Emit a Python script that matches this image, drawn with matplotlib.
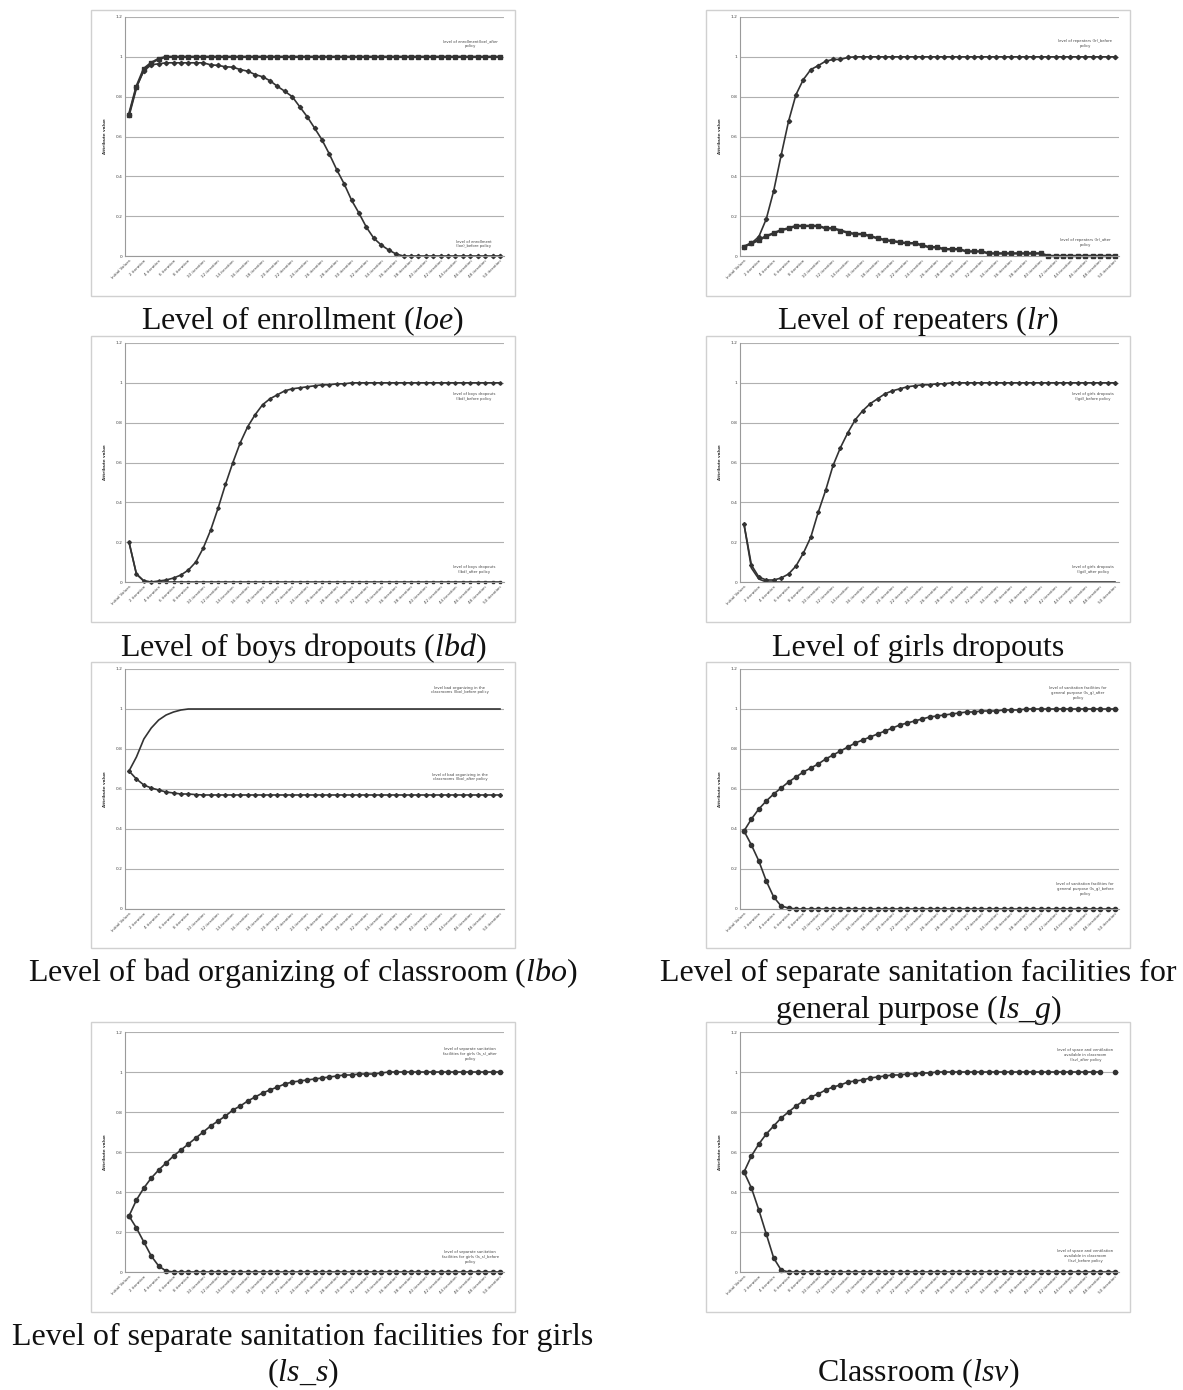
import matplotlib
matplotlib.use("Agg")
import matplotlib.pyplot as plt
from matplotlib.patches import Rectangle
import numpy as np

W, H = 1183, 1390
plt.rcParams['font.family'] = ['DejaVu Sans']
plt.rcParams['mathtext.fontset'] = 'custom'
plt.rcParams['mathtext.rm'] = 'Liberation Serif'
plt.rcParams['mathtext.it'] = 'Liberation Serif:italic'

# ---------------- data ----------------
categories = ["Initial Values"] + [f"{i} iteration" for i in range(1, 51)]
y_ticks = [0, 0.2, 0.4, 0.6, 0.8, 1, 1.2]
y_tick_labels = ["0", "0.2", "0.4", "0.6", "0.8", "1", "1.2"]

loe_after = [0.71, 0.85, 0.94, 0.97, 0.99, 1, 1, 1, 1, 1,
             1, 1, 1, 1, 1, 1, 1, 1, 1, 1,
             1, 1, 1, 1, 1, 1, 1, 1, 1, 1,
             1, 1, 1, 1, 1, 1, 1, 1, 1, 1,
             1, 1, 1, 1, 1, 1, 1, 1, 1, 1, 1]
loe_before = [0.71, 0.85, 0.93, 0.96, 0.965, 0.97, 0.97, 0.97, 0.97, 0.97,
              0.97, 0.96, 0.957, 0.95, 0.948, 0.936, 0.928, 0.911, 0.90, 0.88,
              0.852, 0.827, 0.80, 0.75, 0.70, 0.643, 0.584, 0.512, 0.433, 0.362,
              0.28, 0.215, 0.144, 0.089, 0.055, 0.03, 0.01, 0, 0, 0,
              0, 0, 0, 0, 0, 0, 0, 0, 0, 0, 0]

lr_before = [0.047, 0.064, 0.097, 0.186, 0.327, 0.505, 0.676, 0.81, 0.886, 0.936,
             0.956, 0.978, 0.987, 0.987, 0.997, 1, 1, 1, 1, 1,
             1, 1, 1, 1, 1, 1, 1, 1, 1, 1,
             1, 1, 1, 1, 1, 1, 1, 1, 1, 1,
             1, 1, 1, 1, 1, 1, 1, 1, 1, 1, 1]
lr_after = [0.047, 0.064, 0.08, 0.10, 0.114, 0.13, 0.139, 0.151, 0.151, 0.151,
            0.151, 0.139, 0.139, 0.128, 0.117, 0.11, 0.11, 0.10, 0.089, 0.08,
            0.075, 0.069, 0.064, 0.064, 0.054, 0.044, 0.044, 0.034, 0.034, 0.034,
            0.023, 0.023, 0.023, 0.013, 0.013, 0.013, 0.013, 0.013, 0.013, 0.013,
            0.013, 0, 0, 0, 0, 0, 0, 0, 0, 0, 0]

lbd_before = [0.2, 0.04, 0.005, 0.0, 0.005, 0.01, 0.02, 0.035, 0.06, 0.1,
              0.17, 0.26, 0.37, 0.49, 0.6, 0.7, 0.78, 0.84, 0.89, 0.92,
              0.94, 0.96, 0.97, 0.975, 0.98, 0.985, 0.99, 0.99, 0.995, 0.995,
              1, 1, 1, 1, 1, 1, 1, 1, 1, 1,
              1, 1, 1, 1, 1, 1, 1, 1, 1, 1, 1]
lbd_after = [0.2, 0.04, 0.005, 0, 0, 0, 0, 0, 0, 0,
             0, 0, 0, 0, 0, 0, 0, 0, 0, 0,
             0, 0, 0, 0, 0, 0, 0, 0, 0, 0,
             0, 0, 0, 0, 0, 0, 0, 0, 0, 0,
             0, 0, 0, 0, 0, 0, 0, 0, 0, 0, 0]

lgd_before = [0.29, 0.085, 0.025, 0.01, 0.01, 0.02, 0.04, 0.08, 0.145, 0.225,
              0.35, 0.46, 0.585, 0.675, 0.75, 0.815, 0.86, 0.895, 0.92, 0.945,
              0.96, 0.97, 0.98, 0.985, 0.99, 0.99, 0.995, 0.995, 1, 1,
              1, 1, 1, 1, 1, 1, 1, 1, 1, 1,
              1, 1, 1, 1, 1, 1, 1, 1, 1, 1, 1]
lgd_after = [0.29, 0.07, 0.015, 0, 0, 0, 0, 0, 0, 0,
             0, 0, 0, 0, 0, 0, 0, 0, 0, 0,
             0, 0, 0, 0, 0, 0, 0, 0, 0, 0,
             0, 0, 0, 0, 0, 0, 0, 0, 0, 0,
             0, 0, 0, 0, 0, 0, 0, 0, 0, 0, 0]

lbo_before = [0.69, 0.76, 0.85, 0.905, 0.945, 0.97, 0.985, 0.995, 1, 1,
              1, 1, 1, 1, 1, 1, 1, 1, 1, 1,
              1, 1, 1, 1, 1, 1, 1, 1, 1, 1,
              1, 1, 1, 1, 1, 1, 1, 1, 1, 1,
              1, 1, 1, 1, 1, 1, 1, 1, 1, 1, 1]
lbo_after = [0.69, 0.65, 0.62, 0.605, 0.595, 0.585, 0.58, 0.575, 0.575, 0.572,
             0.57, 0.57, 0.57, 0.57, 0.57, 0.57, 0.57, 0.57, 0.57, 0.57,
             0.57, 0.57, 0.57, 0.57, 0.57, 0.57, 0.57, 0.57, 0.57, 0.57,
             0.57, 0.57, 0.57, 0.57, 0.57, 0.57, 0.57, 0.57, 0.57, 0.57,
             0.57, 0.57, 0.57, 0.57, 0.57, 0.57, 0.57, 0.57, 0.57, 0.57, 0.57]

lsg_after = [0.39, 0.45, 0.50, 0.54, 0.575, 0.605, 0.635, 0.66, 0.685, 0.705,
             0.725, 0.75, 0.77, 0.79, 0.81, 0.83, 0.845, 0.86, 0.875, 0.89,
             0.905, 0.92, 0.93, 0.94, 0.95, 0.96, 0.965, 0.97, 0.975, 0.98,
             0.985, 0.985, 0.99, 0.99, 0.99, 0.995, 0.995, 0.995, 1, 1,
             1, 1, 1, 1, 1, 1, 1, 1, 1, 1, 1]
lsg_before = [0.39, 0.32, 0.24, 0.14, 0.06, 0.015, 0.005, 0, 0, 0,
              0, 0, 0, 0, 0, 0, 0, 0, 0, 0,
              0, 0, 0, 0, 0, 0, 0, 0, 0, 0,
              0, 0, 0, 0, 0, 0, 0, 0, 0, 0,
              0, 0, 0, 0, 0, 0, 0, 0, 0, 0, 0]

lss_after = [0.28, 0.36, 0.42, 0.47, 0.51, 0.545, 0.58, 0.61, 0.64, 0.67,
             0.70, 0.73, 0.755, 0.78, 0.81, 0.83, 0.855, 0.875, 0.895, 0.91,
             0.925, 0.94, 0.95, 0.955, 0.96, 0.965, 0.97, 0.975, 0.98, 0.985,
             0.985, 0.99, 0.99, 0.99, 0.995, 1, 1, 1, 1, 1,
             1, 1, 1, 1, 1, 1, 1, 1, 1, 1, 1]
lss_before = [0.28, 0.22, 0.15, 0.08, 0.03, 0.005, 0, 0, 0, 0,
              0, 0, 0, 0, 0, 0, 0, 0, 0, 0,
              0, 0, 0, 0, 0, 0, 0, 0, 0, 0,
              0, 0, 0, 0, 0, 0, 0, 0, 0, 0,
              0, 0, 0, 0, 0, 0, 0, 0, 0, 0, 0]

lsv_after = [0.5, 0.58, 0.64, 0.69, 0.73, 0.77, 0.8, 0.83, 0.855, 0.875,
             0.89, 0.91, 0.925, 0.935, 0.95, 0.955, 0.96, 0.97, 0.975, 0.98,
             0.985, 0.985, 0.99, 0.99, 0.995, 0.995, 1, 1, 1, 1,
             1, 1, 1, 1, 1, 1, 1, 1, 1, 1,
             1, 1, 1, 1, 1, 1, 1, 1, 1, np.nan, 1]
lsv_before = [0.5, 0.42, 0.31, 0.19, 0.07, 0.01, 0, 0, 0, 0,
              0, 0, 0, 0, 0, 0, 0, 0, 0, 0,
              0, 0, 0, 0, 0, 0, 0, 0, 0, 0,
              0, 0, 0, 0, 0, 0, 0, 0, 0, 0,
              0, 0, 0, 0, 0, 0, 0, 0, 0, 0, 0]

# ---------------- layout ----------------
fig = plt.figure(figsize=(W / 100, H / 100), dpi=100)
fig.patch.set_facecolor("white")

col_box = [(91, 515), (706, 1130)]
row_box = [(10, 296), (336, 622), (662, 948), (1022, 1312)]
row_zero = [256, 582, 909, 1272]
row_top = [17, 343, 669, 1032]
col_axes = [(125.3, 503.7), (740.3, 1118.7)]

LC = "#333333"


def fig_rect(l, t, r, b):
    return [l / W, 1 - b / H, (r - l) / W, (b - t) / H]


def make_axes(row, col):
    bl, br = col_box[col]
    bt, bb = row_box[row]
    box = Rectangle((bl / W, 1 - bb / H), (br - bl) / W, (bb - bt) / H,
                    transform=fig.transFigure, fill=False,
                    edgecolor="#d0d0d0", linewidth=1.0)
    fig.patches.append(box)
    al, ar = col_axes[col]
    ax = fig.add_axes(fig_rect(al, row_top[row], ar, row_zero[row]))
    ax.set_xlim(-0.5, 50.5)
    ax.set_ylim(0, 1.2)
    ax.set_yticks(y_ticks)
    ax.set_yticklabels(y_tick_labels, fontsize=3.2, color="#444444")
    xt = list(range(0, 51, 2))
    ax.set_xticks(xt)
    ax.set_xticklabels([categories[i] for i in xt], rotation=45, ha="right",
                       rotation_mode="anchor", fontsize=3.0, color="#444444")
    ax.tick_params(axis="both", length=0, pad=2)
    ax.grid(axis="y", color="#b0b0b0", linewidth=0.8)
    ax.set_axisbelow(True)
    for s in ("top", "right"):
        ax.spines[s].set_visible(False)
    ax.spines["left"].set_color("#9a9a9a")
    ax.spines["bottom"].set_color("#9a9a9a")
    ax.spines["left"].set_linewidth(0.8)
    ax.spines["bottom"].set_linewidth(0.8)
    ax.set_ylabel("Attribute value", fontsize=3.0, fontweight="bold",
                  color="#333333", labelpad=6)
    ax.patch.set_alpha(0)
    return ax


def series(ax, vals, marker, ms, lw=1.2):
    x = np.arange(len(vals))
    ax.plot(x, vals, color=LC, linewidth=lw, marker=marker, markersize=ms,
            markerfacecolor=LC, markeredgecolor=LC, clip_on=False)


def note(ax, x, y, txt):
    ax.text(x, y, txt, fontsize=2.7, color="#444444", ha="center",
            va="center", linespacing=1.3)


def caption(cx, cy, txt):
    fig.text(cx / W, 1 - cy / H, txt, fontsize=23, family="Liberation Serif",
             ha="center", va="center", color="#111111")


# Panel 1: enrollment
ax = make_axes(0, 0)
series(ax, loe_before, "D", 2.2)
series(ax, loe_after, "s", 3.4, lw=1.8)
note(ax, 46, 1.065, "level of enrollment(loe)_after\npolicy")
note(ax, 46.5, 0.06, "level of enrollment\n(loe)_before policy")

# Panel 2: repeaters
ax = make_axes(0, 1)
series(ax, lr_before, "D", 2.2)
series(ax, lr_after, "s", 3.4, lw=1.8)
note(ax, 46, 1.065, "level of repeaters (lr)_before\npolicy")
note(ax, 46, 0.07, "level of repeaters (lr)_after\npolicy")

# Panel 3: boys dropouts
ax = make_axes(1, 0)
series(ax, lbd_before, "D", 1.8)
series(ax, lbd_after, "s", 2.0)
note(ax, 46.5, 0.93, "level of boys dropouts\n(lbd)_before policy")
note(ax, 46.5, 0.065, "level of boys dropouts\n(lbd)_after policy")

# Panel 4: girls dropouts
ax = make_axes(1, 1)
series(ax, lgd_before, "D", 2.0)
series(ax, lgd_after, None, 0)
note(ax, 47, 0.93, "level of girls dropouts\n(lgd)_before policy")
note(ax, 47, 0.065, "level of girls dropouts\n(lgd)_after policy")

# Panel 5: bad organizing
ax = make_axes(2, 0)
series(ax, lbo_before, None, 0)
series(ax, lbo_after, "D", 2.0)
note(ax, 44.6, 1.095, "level bad organizing in the\nclassrooms (lbo)_before policy")
note(ax, 44.6, 0.66, "level of bad organizing in the\nclassrooms (lbo)_after policy")

# Panel 6: sanitation general purpose
ax = make_axes(2, 1)
series(ax, lsg_after, "o", 3.0)
series(ax, lsg_before, "o", 3.0)
note(ax, 45, 1.08, "level of sanitation facilities for\ngeneral purpose (ls_g)_after\npolicy")
note(ax, 46, 0.10, "level of sanitation facilities for\ngeneral purpose (ls_g)_before\npolicy")

# Panel 7: sanitation girls
ax = make_axes(3, 0)
series(ax, lss_after, "o", 3.0)
series(ax, lss_before, "o", 3.0)
note(ax, 46, 1.09, "level of separate sanitation\nfacilities for girls (ls_s)_after\npolicy")
note(ax, 46, 0.075, "level of separate sanitation\nfacilities for girls (ls_s)_before\npolicy")

# Panel 8: classroom
ax = make_axes(3, 1)
series(ax, lsv_after, "o", 3.0)
series(ax, lsv_before, "o", 3.0)
note(ax, 46, 1.085, "level of space and ventilation\navailable in classroom\n(lsv)_after policy")
note(ax, 46, 0.08, "level of space and ventilation\navailable in classroom\n(lsv)_before policy")

# Captions
caption(303, 321, r"Level of enrollment ($\mathit{loe}$)")
caption(918, 321, r"Level of repeaters ($\mathit{lr}$)")
caption(303, 648, r"Level of boys dropouts ($\mathit{lbd)}$")
caption(918, 648, "Level of girls dropouts")
caption(303, 973, r"Level of bad organizing of classroom ($\mathit{lbo}$)")
caption(918, 973, "Level of separate sanitation facilities for")
caption(918, 1010, r"general purpose ($\mathit{ls\_g}$)")
caption(303, 1337, "Level of separate sanitation facilities for girls")
caption(303, 1373, r"($\mathit{ls\_s}$)")
caption(918, 1373, r"Classroom ($\mathit{lsv}$)")

fig.savefig("out.png", dpi=100, facecolor="white")
